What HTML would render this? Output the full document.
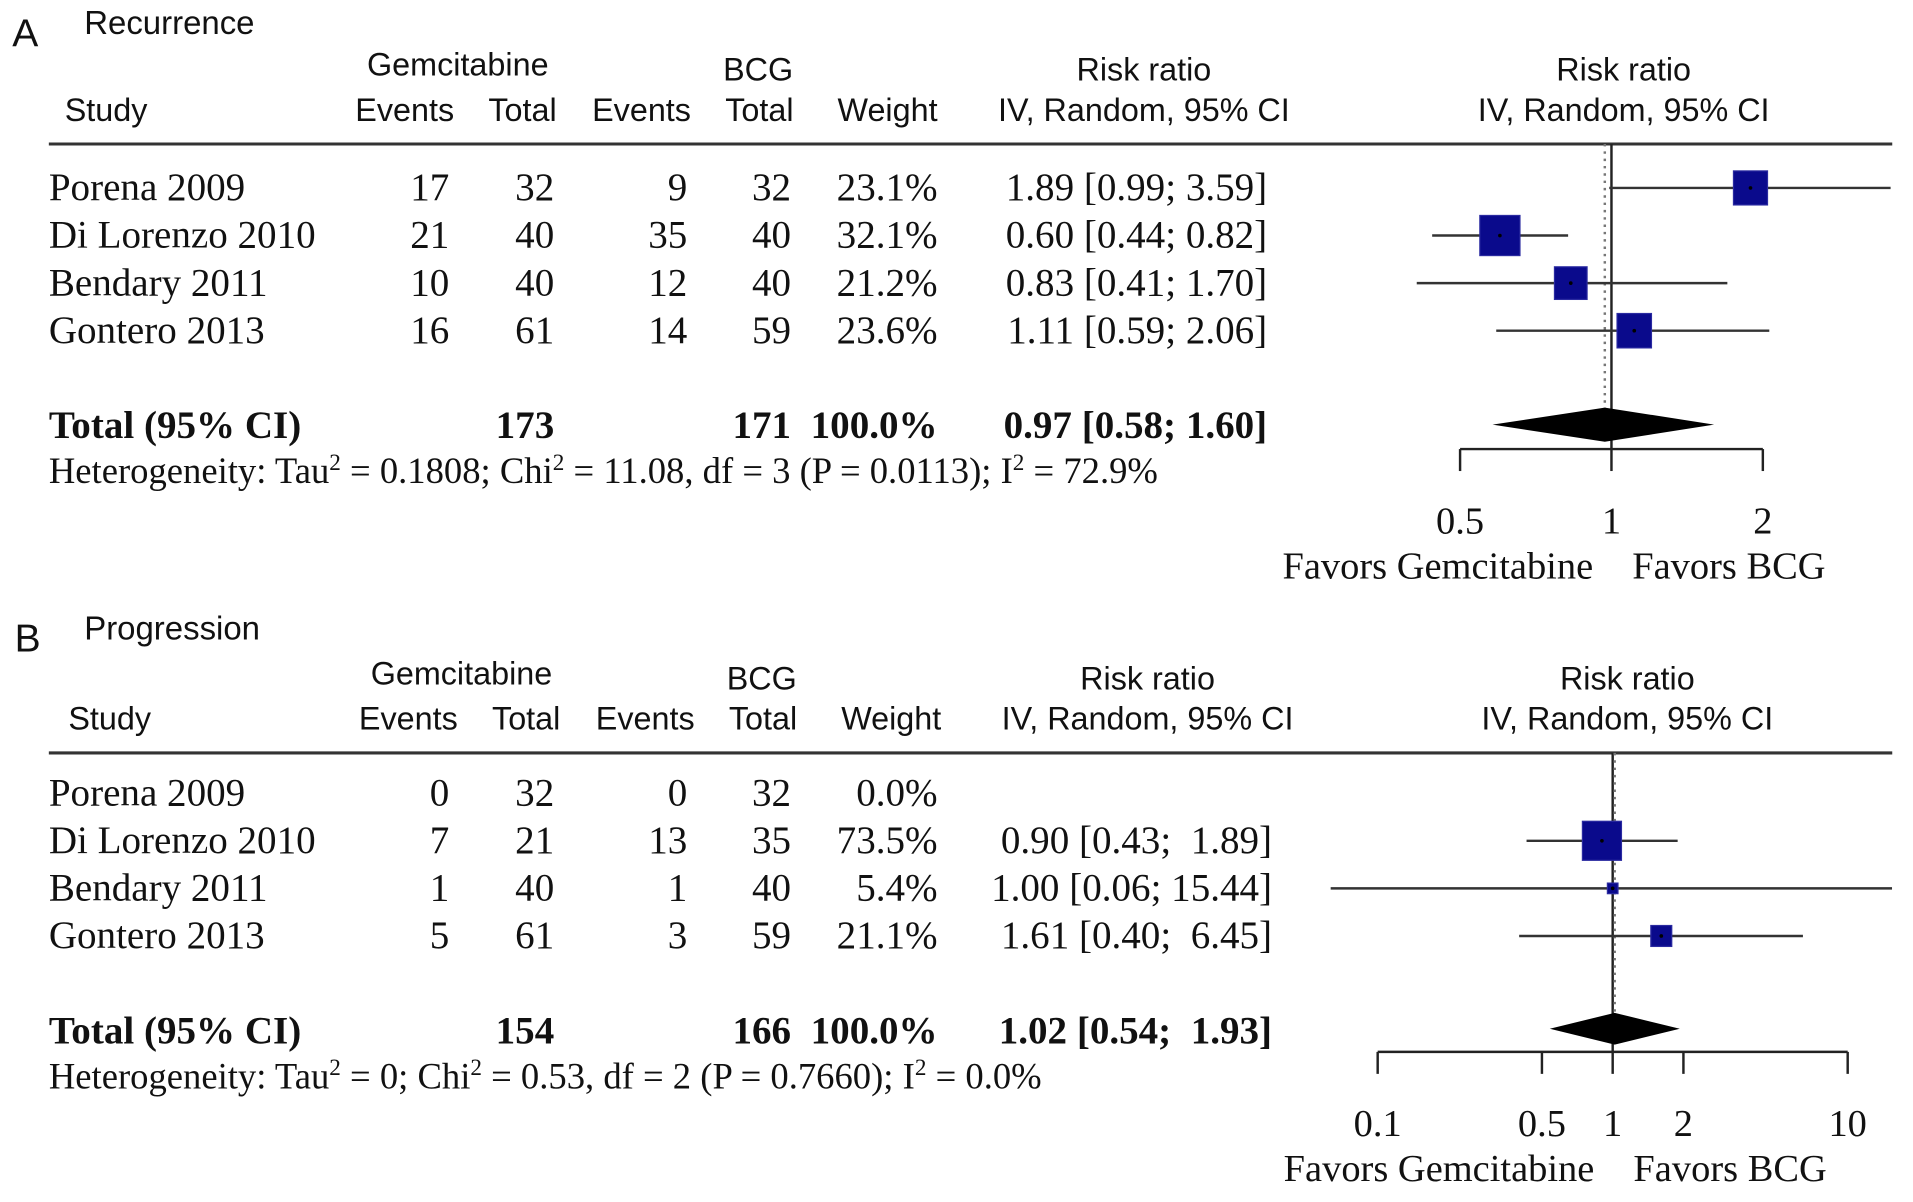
<!DOCTYPE html>
<html><head><meta charset="utf-8">
<style>
html,body{margin:0;padding:0;background:#fff;}
svg{display:block;}
.sans{font-family:"Liberation Sans",Arial,sans-serif;}
.serif{font-family:"Liberation Serif","Times New Roman",serif;white-space:pre;}
</style></head>
<body>
<svg id="chart" width="1913" height="1202" viewBox="0 0 1567 985" preserveAspectRatio="none" xmlns="http://www.w3.org/2000/svg"></svg>
<script>
// ---- Panel A data (Recurrence) ----
const studiesA = ["Porena 2009","Di Lorenzo 2010","Bendary 2011","Gontero 2013"];
const gemEventsA = [17,21,10,16];
const gemTotalA = [32,40,40,61];
const bcgEventsA = [9,35,12,14];
const bcgTotalA = [32,40,40,59];
const weightA = [23.1,32.1,21.2,23.6];
const rrA = [1.89,0.60,0.83,1.11];
const lowA = [0.99,0.44,0.41,0.59];
const highA = [3.59,0.82,1.70,2.06];
const totalA = {gem:173,bcg:171,rr:0.97,low:0.58,high:1.60};
const ciTextA = ["1.89 [0.99; 3.59]","0.60 [0.44; 0.82]","0.83 [0.41; 1.70]","1.11 [0.59; 2.06]"];
const totalCiTextA = "0.97 [0.58; 1.60]";
const ticksA = [0.5,1,2];
const tickLabelsA = ["0.5","1","2"];

// ---- Panel B data (Progression) ----
const studiesB = ["Porena 2009","Di Lorenzo 2010","Bendary 2011","Gontero 2013"];
const gemEventsB = [0,7,1,5];
const gemTotalB = [32,21,40,61];
const bcgEventsB = [0,13,1,3];
const bcgTotalB = [32,35,40,59];
const weightB = [0.0,73.5,5.4,21.1];
const rrB = [null,0.90,1.00,1.61];
const lowB = [null,0.43,0.06,0.40];
const highB = [null,1.89,15.44,6.45];
const totalB = {gem:154,bcg:166,rr:1.02,low:0.54,high:1.93};
const ciTextB = ["","0.90 [0.43;  1.89]","1.00 [0.06; 15.44]","1.61 [0.40;  6.45]"];
const totalCiTextB = "1.02 [0.54;  1.93]";
const ticksB = [0.1,0.5,1,2,10];
const tickLabelsB = ["0.1","0.5","1","2","10"];

const NS="http://www.w3.org/2000/svg";
const svg=document.getElementById('chart');
function el(tag,attrs,parent){const e=document.createElementNS(NS,tag);for(const k in attrs)e.setAttribute(k,attrs[k]);(parent||svg).appendChild(e);return e;}
function txt(x,y,s,cls,size,anchor,weight,name,parent){
  const t=el('text',{x:x,y:y,'class':cls,'font-size':size,'text-anchor':anchor||'start','font-weight':weight||'normal',fill:'#111'},parent);
  t.textContent=s;
  
  
  return t;
}
const HS=26.5, RS=32, TS=31.5;

function panel(o){
  const g=el('g',{});
  
  
  const y0=o.y0, hy=y0+o.hy;
  txt(o.letterX,y0+38,o.letter,'sans',32,'start','normal','panel-letter',g);
  txt(69,y0+28,o.title,'sans',27,'start','normal','panel-title',g);
  const hx=o.hx;
  txt(375+hx,hy+62,'Gemcitabine','sans',HS,'middle','normal','gemcitabine-header',g);
  txt(621+hx,hy+66,'BCG','sans',HS,'middle','normal','bcg-header',g);
  txt(53+hx,hy+99,'Study','sans',HS,'start','normal','study-header',g);
  txt(372+hx,hy+99,'Events','sans',HS,'end','normal','gem-events-header',g);
  txt(456+hx,hy+99,'Total','sans',HS,'end','normal','gem-total-header',g);
  txt(566+hx,hy+99,'Events','sans',HS,'end','normal','bcg-events-header',g);
  txt(650+hx,hy+99,'Total','sans',HS,'end','normal','bcg-total-header',g);
  txt(768+hx,hy+99,'Weight','sans',HS,'end','normal','weight-header',g);
  txt(937+hx,hy+66,'Risk ratio','sans',HS,'middle','normal','rr-header',g);
  txt(937+hx,hy+99,'IV, Random, 95% CI','sans',HS,'middle','normal','rr-method-header',g);
  txt(1330+hx,hy+66,'Risk ratio','sans',HS,'middle','normal','plot-rr-header',g);
  txt(1330+hx,hy+99,'IV, Random, 95% CI','sans',HS,'middle','normal','plot-method-header',g);
  const hl=el('line',{x1:40,x2:1550,y1:hy+118,y2:hy+118,stroke:'#333','stroke-width':2.5},g);
  
  

  const rowsY=[164,203,242,281];
  const X=v=>o.cx+o.k*Math.log10(v);
  const clipL=1090, clipR=1550;
  const axisY=y0+o.axisY;
  const vl=el('line',{x1:o.cx,x2:o.cx,y1:hy+118,y2:axisY,stroke:'#222','stroke-width':2},g);
  
  
  const dl=el('line',{x1:X(o.tot.rr),x2:X(o.tot.rr),y1:hy+118,y2:y0+340,stroke:'#777','stroke-width':2,'stroke-dasharray':'2,4'},g);
  
  

  for(let i=0;i<o.studies.length;i++){
    const by=y0+rowsY[i];
    txt(40,by,o.studies[i],'serif',RS,'start','normal','study-name',g);
    txt(368,by,String(o.ge[i]),'serif',RS,'end','normal','gem-events',g);
    txt(454,by,String(o.gt[i]),'serif',RS,'end','normal','gem-total',g);
    txt(563,by,String(o.be[i]),'serif',RS,'end','normal','bcg-events',g);
    txt(648,by,String(o.bt[i]),'serif',RS,'end','normal','bcg-total',g);
    txt(768,by,o.w[i].toFixed(1)+'%','serif',RS,'end','normal','weight-value',g);
    if(o.ci[i]) txt(o.ciRight,by,o.ci[i],'serif',RS,'end','normal','rr-ci-text',g);
    if(o.rr[i]!=null){
      const cy=by-10;
      const x1=Math.max(clipL,X(o.lo[i])), x2=Math.min(clipR,X(o.hi[i]));
      const l=el('line',{x1:x1,x2:x2,y1:cy,y2:cy,stroke:'#333','stroke-width':2},g);
      
      
      const s=o.sq*Math.sqrt(o.w[i]);
      const r=el('rect',{x:X(o.rr[i])-s/2,y:cy-s/2,width:s,height:s,fill:'#0a0a8c',stroke:'#2a2aa0','stroke-width':1},g);
      
      
      const d=el('circle',{cx:X(o.rr[i]),cy:cy,r:1.5,fill:'#000'},g);
      
      
    }
  }
  const ty=y0+359;
  txt(40,ty,'Total (95% CI)','serif',RS,'start','bold','total-label',g);
  txt(454,ty,String(o.tot.gem),'serif',RS,'end','bold','gem-total-sum',g);
  txt(648,ty,String(o.tot.bcg),'serif',RS,'end','bold','bcg-total-sum',g);
  txt(768,ty,'100.0%','serif',RS,'end','bold','total-weight',g);
  txt(o.ciRight,ty,o.totCi,'serif',RS,'end','bold','total-rr-ci',g);
  const dy=y0+o.diaY, dh=o.diaH;
  const dia=el('polygon',{points:`${X(o.tot.low)},${dy} ${X(o.tot.rr)},${dy-dh} ${X(o.tot.high)},${dy} ${X(o.tot.rr)},${dy+dh}`,fill:'#000'},g);
  
  
  const h=el('text',{x:40,y:y0+396,'class':'serif','font-size':30,fill:'#111'},g);
  
  
  o.het.forEach(p=>{const t=el('tspan',p[1]?{'font-size':19,dy:-11}:{dy:p[2]||0},h);t.textContent=p[0];});
  const a0=X(o.ticks[0]), a1=X(o.ticks[o.ticks.length-1]);
  const ax=el('line',{x1:a0,x2:a1,y1:axisY,y2:axisY,stroke:'#222','stroke-width':2},g);
  
  
  o.ticks.forEach((t,i)=>{
    const tk=el('line',{x1:X(t),x2:X(t),y1:axisY,y2:axisY+18,stroke:'#222','stroke-width':2},g);
    
    
    txt(X(t),axisY+69,o.tickLabels[i],'serif',TS,'middle','normal','x-tick-label',g);
  });
  txt(o.cx-15,axisY+106,'Favors Gemcitabine','serif',TS,'end','normal','favors-gemcitabine-label',g);
  txt(o.cx+17,axisY+106,'Favors BCG','serif',TS,'start','normal','favors-bcg-label',g);
}

panel({name:'panel-a-recurrence',y0:0,hy:0,letter:'A',letterX:10,title:'Recurrence',hx:0,
  studies:studiesA,ge:gemEventsA,gt:gemTotalA,be:bcgEventsA,bt:bcgTotalA,w:weightA,rr:rrA,lo:lowA,hi:highA,
  ci:ciTextA,totCi:totalCiTextA,tot:totalA,ticks:ticksA,tickLabels:tickLabelsA,
  cx:1320,k:124/Math.log10(2),sq:5.8,ciRight:1038,axisY:368,diaY:348,diaH:14,
  het:[['Heterogeneity: Tau'],['2',1],[' = 0.1808; Chi',0,11],['2',1],[' = 11.08, df = 3 (P = 0.0113); I',0,11],['2',1],[' = 72.9%',0,11]]});

panel({name:'panel-b-progression',y0:496,hy:3,letter:'B',letterX:12,title:'Progression',hx:3,
  studies:studiesB,ge:gemEventsB,gt:gemTotalB,be:bcgEventsB,bt:bcgTotalB,w:weightB,rr:rrB,lo:lowB,hi:highB,
  ci:ciTextB,totCi:totalCiTextB,tot:totalB,ticks:ticksB,tickLabels:tickLabelsB,
  cx:1321,k:192.5,sq:3.73,ciRight:1042,axisY:366,diaY:347,diaH:13,
  het:[['Heterogeneity: Tau'],['2',1],[' = 0; Chi',0,11],['2',1],[' = 0.53, df = 2 (P = 0.7660); I',0,11],['2',1],[' = 0.0%',0,11]]});
</script>
</body></html>
